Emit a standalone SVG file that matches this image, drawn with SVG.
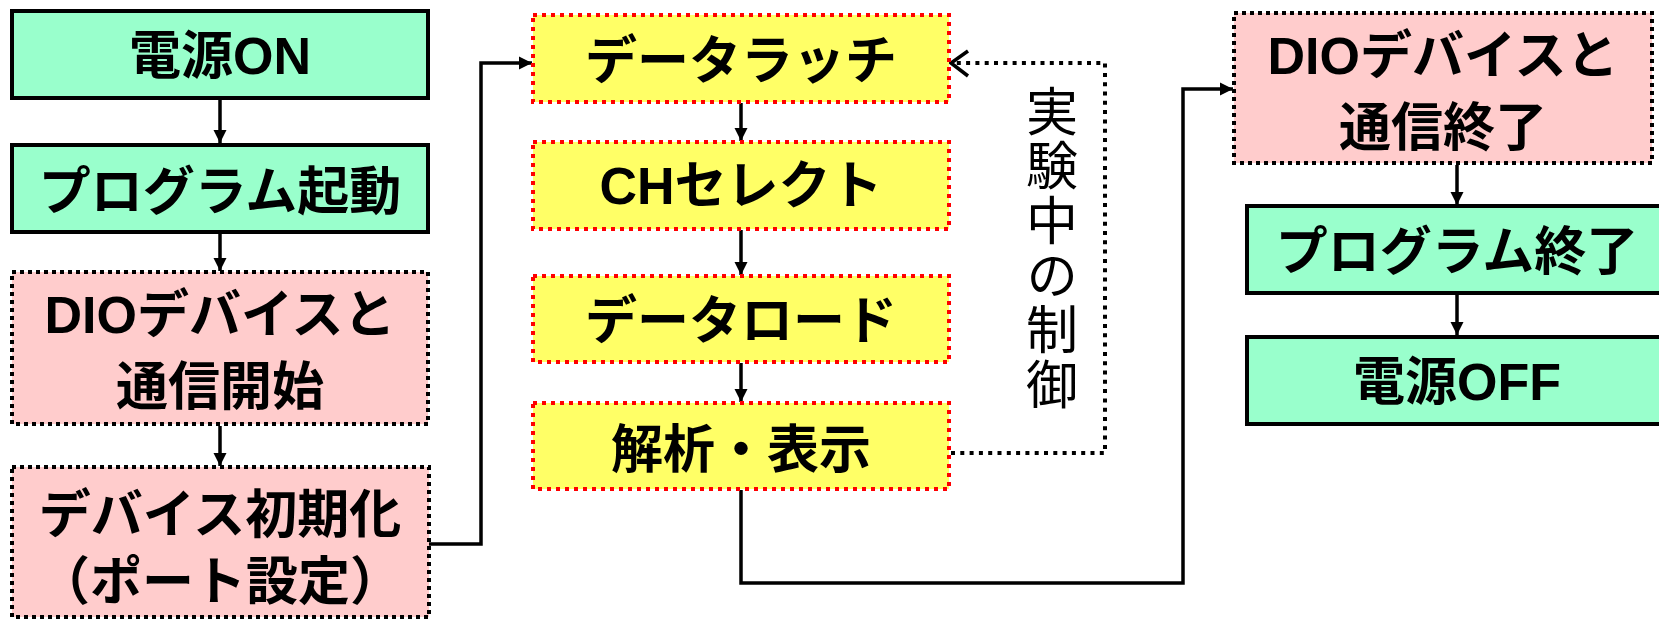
<svg xmlns="http://www.w3.org/2000/svg" width="1659" height="619" viewBox="0 0 1659 619">
<style>
.g{fill:#99FFCC;stroke:#000;stroke-width:4}
.p{fill:#FFCCCC;stroke:#000;stroke-width:4;stroke-dasharray:4 4}
.y{fill:#FFFF66;stroke:#FF0000;stroke-width:4;stroke-dasharray:4 5}
.t{font-family:'Liberation Sans','Noto Sans CJK JP',sans-serif;font-weight:bold;font-size:52px;text-anchor:middle;fill:#000}
.v{font-family:'Noto Sans CJK JP',sans-serif;font-size:52px;fill:#000;letter-spacing:2.6px}
.c{fill:none;stroke:#000;stroke-width:3.5}
.d{fill:none;stroke:#000;stroke-width:4;stroke-dasharray:4 5.3}
</style>
<defs>
<marker id="ah" markerUnits="userSpaceOnUse" markerWidth="14" markerHeight="14" viewBox="0 0 14 14" refX="13" refY="7" orient="auto">
<path d="M0,0.5 L13,7 L0,13.5 Z" fill="#000"/>
</marker>
</defs>
<g id="connectors">
<line class="c" x1="220" y1="100" x2="220" y2="143" marker-end="url(#ah)"/>
<line class="c" x1="220" y1="233" x2="220" y2="271" marker-end="url(#ah)"/>
<line class="c" x1="220" y1="426" x2="220" y2="466" marker-end="url(#ah)"/>
<path class="c" d="M429,544 H481 V63 H532" marker-end="url(#ah)"/>
<line class="c" x1="741" y1="103" x2="741" y2="141" marker-end="url(#ah)"/>
<line class="c" x1="741" y1="230" x2="741" y2="275" marker-end="url(#ah)"/>
<line class="c" x1="741" y1="363" x2="741" y2="402" marker-end="url(#ah)"/>
<path class="d" d="M951,453 H1105 V63 H954"/>
<polyline class="c" points="968,51 951,63 968,76"/>
<path class="c" d="M741,490 V583 H1183 V89 H1233" marker-end="url(#ah)"/>
<line class="c" x1="1457" y1="165" x2="1457" y2="205" marker-end="url(#ah)"/>
<line class="c" x1="1457" y1="294" x2="1457" y2="335" marker-end="url(#ah)"/>
</g>
<g id="n1"><rect class="g" x="12" y="11" width="416" height="87"/><text class="t" x="220" y="74">電源ON</text></g>
<g id="n2"><rect class="g" x="12" y="145" width="416" height="87"/><text class="t" x="220" y="210">プログラム起動</text></g>
<g id="n3"><rect class="p" x="12" y="272" width="416" height="152"/><text class="t" x="220" y="333">DIOデバイスと</text><text class="t" x="220" y="405">通信開始</text></g>
<g id="n4"><rect class="p" x="12" y="467" width="417" height="150"/><text class="t" x="220" y="533">デバイス初期化</text><text class="t" x="220" y="600">（ポート設定）</text></g>
<g id="n5"><rect class="y" x="533" y="15" width="416" height="87"/><text class="t" x="741" y="79">データラッチ</text></g>
<g id="n6"><rect class="y" x="533" y="142" width="416" height="87"/><text class="t" x="741" y="204">CHセレクト</text></g>
<g id="n7"><rect class="y" x="533" y="276" width="416" height="86"/><text class="t" x="741" y="339">データロード</text></g>
<g id="n8"><rect class="y" x="533" y="403" width="416" height="86"/><text class="t" x="741" y="468">解析・表示</text></g>
<g id="label">
<text class="v" x="1052" y="85" writing-mode="vertical-rl">実験中の制御</text>
</g>
<g id="n9"><rect class="p" x="1234" y="13" width="418" height="150"/><text class="t" x="1443" y="74">DIOデバイスと</text><text class="t" x="1443" y="146">通信終了</text></g>
<g id="n10"><rect class="g" x="1247" y="206" width="420" height="87"/><text class="t" x="1457" y="270">プログラム終了</text></g>
<g id="n11"><rect class="g" x="1247" y="337" width="420" height="87"/><text class="t" x="1457" y="400">電源OFF</text></g>
</svg>
